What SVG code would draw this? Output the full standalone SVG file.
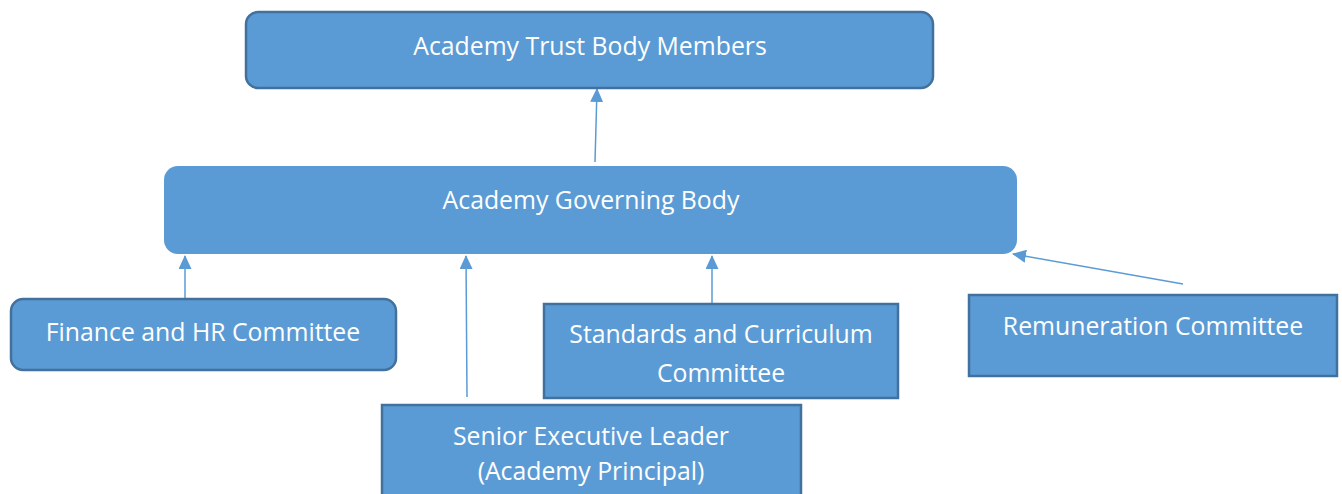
<svg xmlns="http://www.w3.org/2000/svg" width="1342" height="494" viewBox="0 0 1342 494">
  <style>
    .box { fill: #5B9BD5; stroke: #41719C; stroke-width: 2.5; }
    .plain { fill: #5B9BD5; }
    .lbl { fill: #FFFFFF; font-family: "Open Sans", "Liberation Sans", sans-serif; font-size: 24.8px; text-anchor: middle; }
    .conn { stroke: #5B9BD5; stroke-width: 1.5; fill: none; marker-end: url(#arrow); }
  </style>
  <defs>
    <marker id="arrow" markerWidth="14" markerHeight="13" refX="13" refY="6.5" orient="auto" markerUnits="userSpaceOnUse">
      <path d="M0,0 L14,6.5 L0,13 Z" fill="#5B9BD5"/>
    </marker>
  </defs>
  <rect width="1342" height="494" fill="#FFFFFF"/>

  <g id="connectors">
    <line class="conn" x1="595" y1="162" x2="597" y2="89"/>
    <line class="conn" x1="185" y1="298" x2="185" y2="256"/>
    <line class="conn" x1="467" y1="397" x2="466" y2="256"/>
    <line class="conn" x1="712" y1="303" x2="712" y2="256"/>
    <line class="conn" x1="1183" y1="284" x2="1013" y2="254"/>
  </g>

  <g id="trust-members">
    <rect class="box" x="246" y="12" width="687" height="76" rx="12"/>
    <text class="lbl" x="590" y="55">Academy Trust Body Members</text>
  </g>

  <g id="governing-body">
    <rect class="plain" x="164" y="166" width="853" height="88" rx="14"/>
    <text class="lbl" x="591" y="209">Academy Governing Body</text>
  </g>

  <g id="finance-hr">
    <rect class="box" x="11" y="299" width="385" height="71" rx="12"/>
    <text class="lbl" x="203" y="341">Finance and HR Committee</text>
  </g>

  <g id="standards-curriculum">
    <rect class="box" x="544" y="304" width="354" height="94"/>
    <text class="lbl" x="721" y="343">Standards and Curriculum</text>
    <text class="lbl" x="721" y="382">Committee</text>
  </g>

  <g id="remuneration">
    <rect class="box" x="969" y="295" width="368" height="81"/>
    <text class="lbl" x="1153" y="335">Remuneration Committee</text>
  </g>

  <g id="senior-leader">
    <rect class="box" x="382" y="405" width="419" height="95"/>
    <text class="lbl" x="591" y="445">Senior Executive Leader</text>
    <text class="lbl" x="591" y="480">(Academy Principal)</text>
  </g>
</svg>
